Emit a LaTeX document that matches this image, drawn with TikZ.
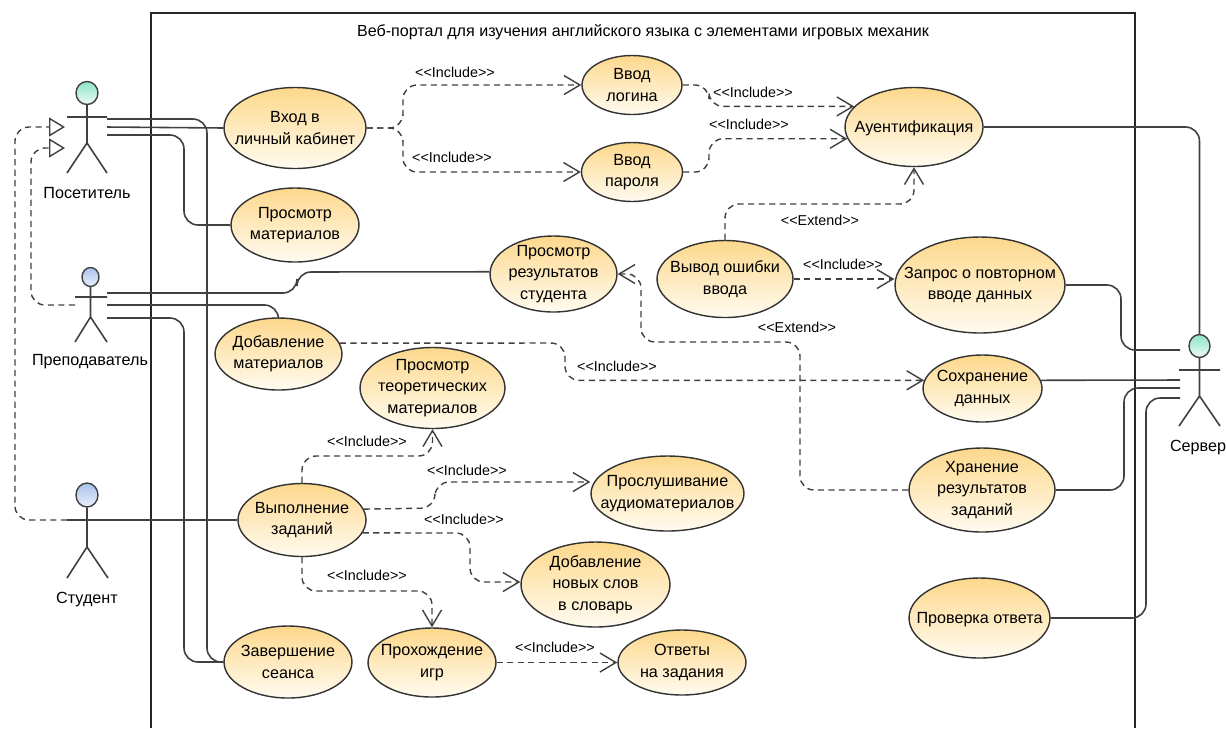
\documentclass[tikz,border=0pt]{standalone}
\usepackage{fontspec}
\setmainfont{Liberation Sans}
\newfontfamily\stereofont{Liberation Sans}
\usetikzlibrary{shapes.geometric,arrows.meta}

\definecolor{usetop}{HTML}{FDD88C}
\definecolor{usebottom}{HTML}{FFFBF0}
\definecolor{linegray}{HTML}{404040}
\definecolor{mint}{HTML}{8FE3C8}
\definecolor{mintpale}{HTML}{ECFBF6}
\definecolor{sky}{HTML}{A9C2EC}
\definecolor{skypale}{HTML}{E8F0FB}

\tikzset{
  usecase/.style={ellipse, draw=black!80, line width=0.8pt, inner xsep=-1.6cm, inner ysep=-1cm, align=center,
    top color=usetop, bottom color=usebottom, font=\fontsize{9.2}{12.2}\selectfont},
  greenhead/.style={ellipse, draw=linegray, line width=0.8pt, inner sep=0pt,
    top color=mint, bottom color=mintpale},
  bluehead/.style={ellipse, draw=linegray, line width=0.8pt, inner sep=0pt,
    top color=sky, bottom color=skypale},
  actorline/.style={draw=linegray, line width=0.9pt},
  actorlabel/.style={font=\fontsize{9.2}{11}\selectfont},
  assoc/.style={draw=linegray, line width=0.9pt, rounded corners=8},
  incl/.style={draw=linegray, line width=0.8pt, dash pattern=on 3.5pt off 2.5pt, rounded corners=8,
    -{Straight Barb[length=3.2mm,width=3.8mm]}},
  general/.style={draw=linegray, line width=0.8pt, dash pattern=on 3.5pt off 2.5pt, rounded corners=8,
    -{Triangle[open,length=3.2mm,width=3.8mm]}},
  stereo/.style={font=\stereofont\fontsize{8.15}{9}\selectfont}
}

\begin{document}
\begin{tikzpicture}[x=0.02cm,y=-0.02cm]
  \useasboundingbox (0,0) rectangle (1226,728);

  % System boundary, open at the bottom
  \draw[black!85, line width=0.9pt] (151,728) -- (151,13) -- (1135,13) -- (1135,728);
  \node[font=\fontsize{9.15}{11}\selectfont] (title) at (643,32) {Веб-портал для изучения английского языка с элементами игровых механик};

  % Actors
  \node[greenhead, minimum width=0.44cm, minimum height=0.46cm] (visitor) at (87,93) {};
  \draw[actorline] (visitor.south) -- (87,143) -- (67,173) (87,143) -- (107,173) (67,117) -- (107,117);
  \node[actorlabel] (visitorlabel) at (87,193) {Посетитель};

  \node[bluehead, minimum width=0.34cm, minimum height=0.38cm] (teacher) at (90.5,277) {};
  \draw[actorline] (teacher.south) -- (90.5,317) -- (75,342) (90.5,317) -- (107,342) (75,297) -- (107,297);
  \node[actorlabel] (teacherlabel) at (90,362) {Преподаватель};

  \node[bluehead, minimum width=0.44cm, minimum height=0.48cm] (student) at (87,495) {};
  \draw[actorline] (student.south) -- (87,547) -- (67,578) (87,547) -- (108,578) (67,520) -- (108,520);
  \node[actorlabel] (studentlabel) at (87,600) {Студент};

  \node[greenhead, minimum width=0.42cm, minimum height=0.46cm] (server) at (1199.5,346) {};
  \draw[actorline] (server.south) -- (1199.5,396) -- (1179,426) (1199.5,396) -- (1220,426) (1179,370) -- (1220,370);
  \node[actorlabel] (serverlabel) at (1198,448) {Сервер};

  % Use cases
  \node[usecase, minimum width=2.84cm, minimum height=1.62cm] (login) at (295,128) {Вход в\\личный кабинет};
  \node[usecase, minimum width=2.56cm, minimum height=1.48cm] (browse) at (295,225) {Просмотр\\материалов};
  \node[usecase, minimum width=2.00cm, minimum height=1.18cm] (username) at (632,85) {Ввод\\логина};
  \node[usecase, minimum width=2.02cm, minimum height=1.18cm] (password) at (632,172) {Ввод\\пароля};
  \node[usecase, minimum width=2.76cm, minimum height=1.58cm, text depth=0pt] (auth) at (914,127) {Ауентификация};
  \node[usecase, minimum width=2.54cm, minimum height=1.52cm] (results) at (553.5,274) {Просмотр\\результатов\\студента};
  \node[usecase, minimum width=2.72cm, minimum height=1.54cm] (error) at (725,279) {Вывод ошибки\\ввода};
  \node[usecase, minimum width=3.40cm, minimum height=1.92cm] (retry) at (980,285) {Запрос о повторном\\вводе данных};
  \node[usecase, minimum width=2.54cm, minimum height=1.44cm] (addmat) at (278.5,354) {Добавление\\материалов};
  \node[usecase, minimum width=2.90cm, minimum height=1.62cm] (theory) at (432.5,388) {Просмотр\\теоретических\\материалов};
  \node[usecase, minimum width=2.38cm, minimum height=1.34cm] (save) at (982.5,388.5) {Сохранение\\данных};
  \node[usecase, minimum width=2.92cm, minimum height=1.68cm] (store) at (982,490) {Хранение\\результатов\\заданий};
  \node[usecase, minimum width=2.82cm, minimum height=1.60cm, text depth=0pt] (check) at (979.5,618) {Проверка ответа};
  \node[usecase, minimum width=2.56cm, minimum height=1.46cm] (tasks) at (302,520) {Выполнение\\заданий};
  \node[usecase, minimum width=3.06cm, minimum height=1.50cm] (audio) at (667.5,493.5) {Прослушивание\\аудиоматериалов};
  \node[usecase, minimum width=2.98cm, minimum height=1.70cm] (words) at (595.5,584.5) {Добавление\\новых слов\\в словарь};
  \node[usecase, minimum width=2.56cm, minimum height=1.44cm] (logout) at (288,662) {Завершение\\сеанса};
  \node[usecase, minimum width=2.56cm, minimum height=1.38cm] (games) at (432,662.5) {Прохождение\\игр};
  \node[usecase, minimum width=2.56cm, minimum height=1.30cm] (answers) at (682,662.5) {Ответы\\на задания};

  % Free ends of the associations at the actors
  \coordinate (visitorA) at (107,119);
  \coordinate (visitorB) at (107,127);
  \coordinate (visitorC) at (107,135);
  \coordinate (teacherA) at (107,293);
  \coordinate (teacherB) at (107,305);
  \coordinate (teacherC) at (107,318);
  \coordinate (studentA) at (108,520);
  \coordinate (serverA) at (1180,350);
  \coordinate (serverB) at (1180,380);
  \coordinate (serverC) at (1180,388);
  \coordinate (serverD) at (1180,398);

  % Associations
  \draw[assoc] (visitorA) -- (207,119) -- (207,662) -- (logout.west);
  \draw[assoc] (visitorB) -- (login.180);
  \draw[assoc] (visitorC) -- (184,135) |- (browse.west);
  \draw[assoc] (teacherA) -- (297,293) -- (297,272) -- (results.178.2);
  \draw[assoc] (teacherB) -| (addmat.north);
  \draw[assoc] (teacherC) -- (184,318) |- (logout.west);
  \draw[assoc] (studentA) -- (tasks.west);
  \draw[assoc] (auth.east) -- (1199.5,127) -- (server.north);
  \draw[assoc] (retry.east) -- (1121,285) |- (serverA);
  \draw[assoc] (save.8) -- (serverB);
  \draw[assoc] (store.east) -- (1124,490) |- (serverC);
  \draw[assoc] (check.east) -- (1146,618) |- (serverD);

  % Generalizations
  \coordinate (teacherG) at (75,305);
  \coordinate (studentG) at (67,520);
  \coordinate (visitorG) at (65,127);
  \coordinate (visitorH) at (65,148);
  \draw[general] (studentG) -- (15,520) |- (visitorG);
  \draw[general] (teacherG) -- (31,305) |- (visitorH);

  % Includes and extends
  \draw[incl] (login.east) -- (403,128) |- (username.west);
  \draw[incl] (login.east) -- (403,128) |- (password.west);
  \draw[incl] (username.east) -- (709,85) |- (auth.161);
  \draw[incl] (password.east) -- (709,172) |- (auth.190);
  \draw[incl] (error.north) -- (725,204) -| (auth.south);
  \draw[incl] (error.east) -- (error.east -| retry.west);
  \draw[incl] (store.west) -- (800,490) -- (800,342) -- (641,342) |- (results.east);
  \draw[incl] (addmat.10.3) -- (565,343) |- (save.172);
  \draw[incl] (tasks.north) -- (302,456) -| (theory.south);
  \draw[incl] (tasks.10.7) -- (435,508) |- (audio.west |- 0,482);
  \draw[incl] (tasks.-12.8) -- (470,533) |- (words.west |- 0,582);
  \draw[incl] (tasks.south) -- (302,591) -| (games.north);
  \draw[incl] (games.east) -- (answers.west);

  % Stereotype labels
  \node[stereo] (s1) at (455,72) {<<Include>>};
  \node[stereo] (s2) at (452,157) {<<Include>>};
  \node[stereo] (s3) at (753,92) {<<Include>>};
  \node[stereo] (s4) at (749,124) {<<Include>>};
  \node[stereo] (s5) at (820,220) {<<Extend>>};
  \node[stereo] (s6) at (843,264) {<<Include>>};
  \node[stereo] (s7) at (797,327) {<<Extend>>};
  \node[stereo] (s8) at (617,366) {<<Include>>};
  \node[stereo] (s9) at (367,441) {<<Include>>};
  \node[stereo] (s10) at (467,470) {<<Include>>};
  \node[stereo] (s11) at (464,519) {<<Include>>};
  \node[stereo] (s12) at (367,575) {<<Include>>};
  \node[stereo] (s13) at (555,647) {<<Include>>};
\end{tikzpicture}
\end{document}
